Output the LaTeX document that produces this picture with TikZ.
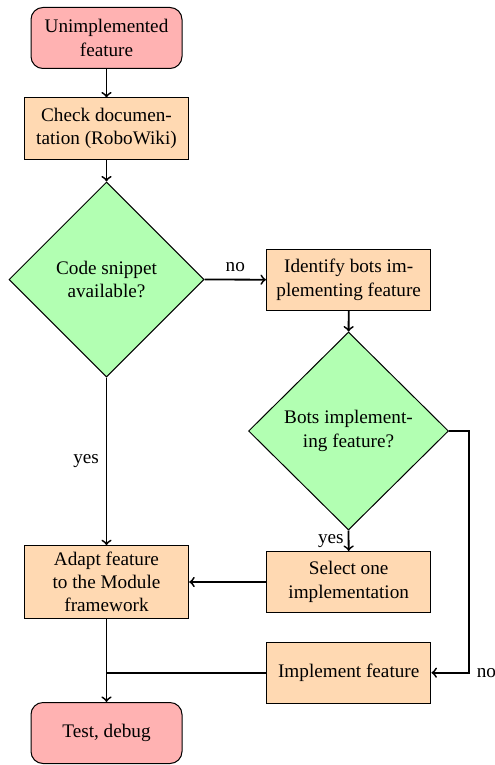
\documentclass[tikz,border=0pt]{standalone}
\usepackage{fontspec}
\setmainfont{Liberation Serif}
\usetikzlibrary{shapes.geometric,arrows}
\begin{document}
\begin{tikzpicture}[x=0.5pt,y=-0.5pt,
  every node/.style={font=\fontsize{9.6}{11.65}\selectfont},
  term/.style={draw, line width=0.5pt, fill=red!30, rounded corners=6pt, align=center, inner sep=0pt,
    minimum width=75.5pt, minimum height=30.5pt},
  proc/.style={draw, line width=0.5pt, fill=orange!30, align=center, inner sep=0pt,
    minimum width=82.2pt, minimum height=30.5pt},
  dec/.style={draw, line width=0.5pt, fill=green!30, diamond, align=center, inner sep=0pt,
    minimum width=97.5pt, minimum height=97.5pt},
  conn/.style={line width=0.9pt, -to},
  lbl/.style={font=\fontsize{9.6}{11.65}\selectfont}]
\useasboundingbox (0,0) rectangle (494,765);
\node[term] (start) at (106.5,38) {Unimplemented\\feature};
\node[proc] (check) at (106.5,128.5) {Check documen-\\tation (RoboWiki)};
\node[dec] (d1) at (106.5,279.5) {Code snippet\\available?};
\node[proc] (ident) at (348.7,279.7) {Identify bots im-\\plementing feature};
\node[dec, minimum width=100pt, minimum height=99pt] (d2) at (348.5,431) {Bots implement-\\ing feature?};
\node[proc] (select) at (348.7,582) {Select one\\implementation};
\node[proc, minimum height=36.3pt] (adapt) at (106.5,582) {Adapt feature\\to the Module\\framework};
\node[proc] (impl) at (348.7,672.7) {Implement feature};
\node[term] (test) at (106.5,733) {Test, debug};
\coordinate (corner) at (469.3,672.7);
\coordinate (join) at (106.5,672.7);
\draw[conn] (start) -- (check);
\draw[conn] (check) -- (d1);
\draw[conn] (d1.east) -- node[above] {no} (ident.west);
\draw[conn] (ident) -- (d2);
\draw[conn] (d2.south) -- node[left, inner sep=2pt] {yes} (select.north);
\draw[conn] (d1.south) -- node[left] {yes} (adapt.north);
\draw[conn] (select.west) -- (adapt.east);
\draw[conn] (d2.east) -| (corner) -- node[pos=0, right] {no} (impl.east);
\draw[conn] (adapt.south) -- (test.north);
\draw[line width=0.9pt] (impl.west) -- (join);
\end{tikzpicture}
\end{document}
